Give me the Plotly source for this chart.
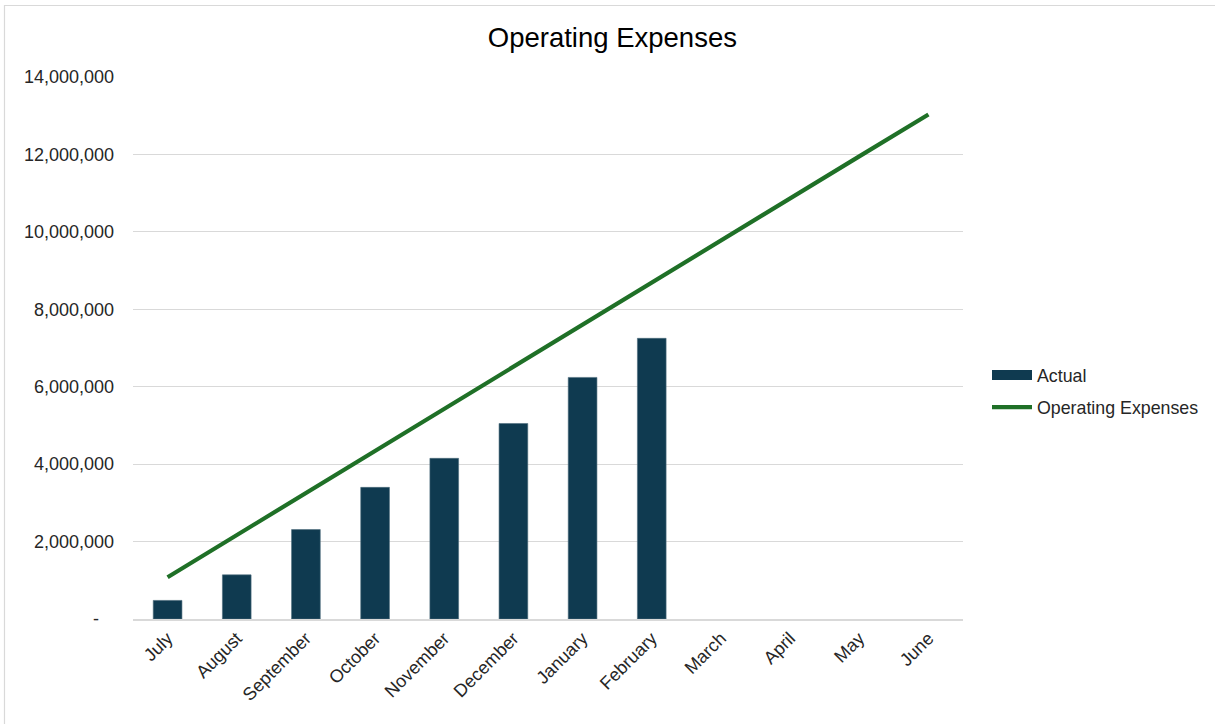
import plotly.graph_objects as go

# Monthly data (fiscal year July - June)
months = ["July", "August", "September", "October", "November", "December",
          "January", "February", "March", "April", "May", "June"]
actual = [480000, 1140000, 2310000, 3400000, 4150000, 5050000,
          6240000, 7250000, None, None, None, None]
operating_expenses = [1080000, 2170000, 3260000, 4340000, 5430000, 6520000,
                      7600000, 8690000, 9780000, 10860000, 11950000, 13030000]

y_ticks = [0, 2000000, 4000000, 6000000, 8000000, 10000000, 12000000, 14000000]
y_tick_text = ["-\u00a0\u00a0\u00a0" if v == 0 else f"{v:,}" for v in y_ticks]

FONT = "Liberation Sans, Arial, sans-serif"
TEXT = "#262626"
GRID = "#d9d9d9"
BAR = "#0f3a50"
LINE = "#1f7027"

fig = go.Figure()
fig.add_trace(go.Bar(
    x=months, y=actual, name="Actual", showlegend=False,
    marker=dict(color=BAR, line=dict(color="#4d6b7c", width=0.6)),
))
# Legend key for the bars, drawn as a wide block like a spreadsheet legend
fig.add_trace(go.Scatter(
    x=[None], y=[None], name="Actual", mode="lines",
    line=dict(color=BAR, width=10), legendgroup="a",
))
fig.add_trace(go.Scatter(
    x=months, y=operating_expenses, name="Operating Expenses",
    mode="lines", line=dict(color=LINE, width=4.2), legendgroup="b",
))

fig.update_layout(
    width=1215, height=724,
    margin=dict(l=133, r=252, t=77, b=105, autoexpand=False),
    paper_bgcolor="white", plot_bgcolor="white",
    font=dict(family=FONT, size=18, color=TEXT),
    title=dict(text="Operating Expenses", x=0.504, xref="container", xanchor="center",
               y=1 - 37 / 724, yref="container", yanchor="middle",
               font=dict(size=27.5, color="#000000", family=FONT)),
    bargap=0.585,
    showlegend=True,
    legend=dict(x=987 / 1215, xref="container", y=0.42, xanchor="left", yanchor="middle",
                font=dict(size=17.8, color=TEXT, family=FONT),
                traceorder="grouped", tracegroupgap=6,
                bgcolor="rgba(0,0,0,0)", itemwidth=40),
    shapes=[dict(type="rect", xref="paper", yref="paper",
                 x0=(4.5 - 133) / 830, x1=(1225 - 133) / 830,
                 y0=(619 - 735) / 542, y1=(619 - 5.5) / 542,
                 line=dict(color="#d9d9d9", width=1.2), layer="below")],
)

fig.update_xaxes(
    type="category", tickangle=-45, showgrid=False,
    showline=True, linecolor=GRID, linewidth=1.5,
    ticks="", tickfont=dict(size=18, color=TEXT, family=FONT),
)
fig.update_yaxes(
    range=[0, 14000000], tickvals=y_ticks, ticktext=y_tick_text,
    showgrid=True, gridcolor=GRID, gridwidth=1.2,
    zeroline=False, showline=False, ticks="",
    ticklabelstandoff=18,
    tickfont=dict(size=18, color=TEXT, family=FONT),
)

fig.write_html("out.html")
